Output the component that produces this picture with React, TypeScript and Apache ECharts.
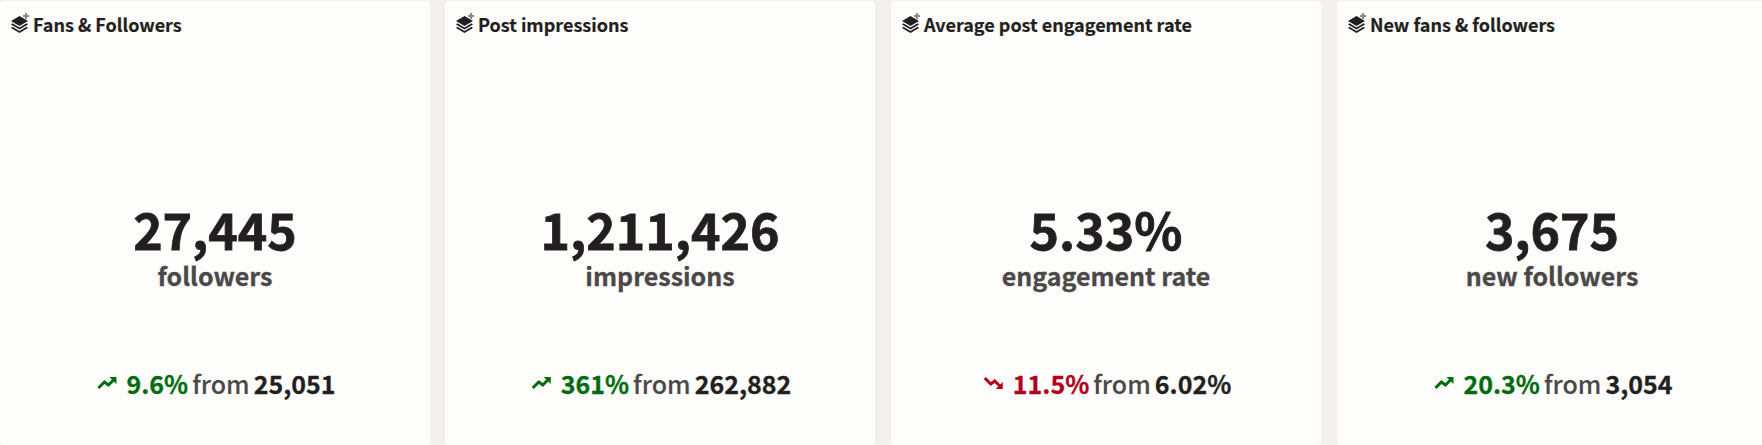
import React, { useEffect, useRef } from "react";
import * as echarts from "echarts";

const W = 1762;
const H = 445;
const FONT = "'Noto Sans CJK SC', 'Noto Sans', sans-serif";

const titles = ["Fans & Followers", "Post impressions", "Average post engagement rate", "New fans & followers"];
const values = ["27,445", "1,211,426", "5.33%", "3,675"];
const units = ["followers", "impressions", "engagement rate", "new followers"];
const changes = ["9.6%", "361%", "11.5%", "20.3%"];
const previous = ["25,051", "262,882", "6.02%", "3,054"];
const trend = ["up", "up", "down", "up"];
const cardLeft = [0, 445, 891, 1337];
const CARD_W = 430;

echarts.graphic.registerShape(
  "stack",
  echarts.graphic.extendPath(
    "M8.5 0 L17 5 L8.5 10 L0 5 Z M1.4 7.2 L8.5 11.4 L15.6 7.2 L17 8.4 L8.5 13.6 L0 8.4 Z M1.4 10.8 L8.5 15 L15.6 10.8 L17 12 L8.5 17 L0 12 Z",
    {}
  )
);

function buildGraphic() {
  const out: any[] = [];
  const ctx = document.createElement("canvas").getContext("2d")!;
  const width = (t: string, font: string) => {
    ctx.font = font;
    return ctx.measureText(t).width;
  };
  const bold = (text: string, font: string, fill: string, w: number) => ({
    text,
    font,
    fill,
    stroke: fill,
    lineWidth: w,
    textVerticalAlign: "middle",
  });
  titles.forEach((title, i) => {
    const x = cardLeft[i];
    const cx = x + CARD_W / 2;
    out.push({ type: "rect", shape: { x, y: 1, width: CARD_W, height: H - 1, r: 4 }, style: { fill: "#fdfdfb" } });
    out.push({ type: "stack", x: x + 11, y: 16, style: { fill: "#231f20" } });
    out.push({ type: "rect", shape: { x: x + 23, y: 15, width: 6, height: 2 }, style: { fill: "#8a8788" } });
    out.push({ type: "rect", shape: { x: x + 25, y: 13, width: 2, height: 6 }, style: { fill: "#8a8788" } });
    out.push({ type: "text", x: x + 33, y: 24, style: bold(title, `700 18px ${FONT}`, "#231f20", 0.2) });
    out.push({ type: "text", x: cx, y: 227.5, style: { ...bold(values[i], `700 50px ${FONT}`, "#231f20", 0.8), textAlign: "center" } });
    out.push({ type: "text", x: cx, y: 275, style: { ...bold(units[i], `700 25px ${FONT}`, "#4c4849", 0.3), textAlign: "center" } });
    const f1 = `700 25px ${FONT}`;
    const f2 = `500 25px ${FONT}`;
    const wChange = width(changes[i], f1);
    const wFrom = width("from", f2);
    const wPrev = width(previous[i], f1);
    const total = 28 + wChange + 4 + wFrom + 4 + wPrev;
    let px = cx - total / 2 + 2;
    const color = trend[i] === "up" ? "#006b0c" : "#b00020";
    const pts = trend[i] === "up"
      ? [[0, 11], [6, 5], [10, 8], [15, 3]]
      : [[0, 1], [6, 7], [10, 4], [15, 9]];
    out.push({ type: "polyline", x: px, y: 377, shape: { points: pts }, style: { stroke: color, lineWidth: 3, fill: "none" } });
    const tip = trend[i] === "up" ? [[11, 0], [18, 0], [18, 7]] : [[11, 12], [18, 12], [18, 5]];
    out.push({ type: "polygon", x: px, y: 377, shape: { points: tip }, style: { fill: color } });
    px += 28;
    out.push({ type: "text", x: px, y: 383, style: bold(changes[i], f1, color, 0.3) });
    px += wChange + 4;
    out.push({ type: "text", x: px, y: 383, style: bold("from", f2, "#4c4849", 0.1) });
    px += wFrom + 4;
    out.push({ type: "text", x: px, y: 383, style: bold(previous[i], f1, "#231f20", 0.3) });
  });
  return out;
}

export default function App() {
  const ref = useRef<HTMLDivElement>(null);
  useEffect(() => {
    const chart = echarts.init(ref.current!, undefined, { renderer: "svg" });
    chart.setOption({ animation: false, backgroundColor: "#f4f0ee", graphic: { elements: buildGraphic() } });
    return () => chart.dispose();
  }, []);
  return <div ref={ref} style={{ position: "fixed", left: 0, top: 0, width: W, height: H }} />;
}
